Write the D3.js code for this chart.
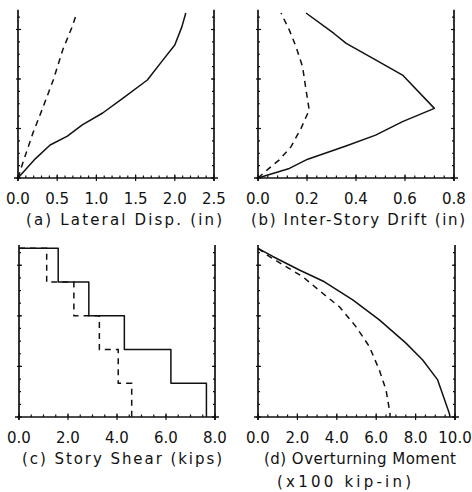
<!DOCTYPE html>
<html>
<head>
<meta charset="utf-8">
<script src="https://cdn.jsdelivr.net/npm/d3@7/dist/d3.min.js"></script>
<style>
  html, body { margin: 0; padding: 0; background: #fff; }
  svg { display: block; }
  text { font-family: "DejaVu Sans", sans-serif; fill: #111; }
</style>
</head>
<body>
<svg id="chart" width="472" height="492"></svg>
<script>
// ---------- DATA (x value, height in stories) ----------
// (a) Lateral displacement (in)
const dispSolid  = [[0,0],[0.22,0.58],[0.41,1.0],[0.63,1.27],[0.82,1.61],[1.08,1.97],[1.34,2.42],[1.65,2.97],[1.85,3.58],[2.0,4.03],[2.09,4.58],[2.14,5.0]];
const dispDashed = [[0,0],[0.06,0.45],[0.19,1.36],[0.32,2.15],[0.45,2.97],[0.57,3.88],[0.69,4.58],[0.75,5.0]];
// (b) Inter-story drift (in)
const driftSolid  = [[0,0],[0.128,0.29],[0.203,0.57],[0.359,0.97],[0.48,1.3],[0.59,1.71],[0.72,2.11],[0.59,3.12],[0.48,3.58],[0.36,4.08],[0.31,4.38],[0.196,5.0]];
const driftDashed = [[0,0],[0.04,0.26],[0.087,0.55],[0.135,0.95],[0.176,1.51],[0.209,2.06],[0.196,2.67],[0.182,3.37],[0.155,3.98],[0.128,4.48],[0.094,5.0]];
// (c) Story shear (kips), story 1 .. 5
const shearSolid  = [7.65, 6.2, 4.3, 2.85, 1.6];
const shearDashed = [4.6, 4.05, 3.28, 2.24, 1.13];
// (d) Overturning moment (x100 kip-in)
const momentSolid  = [[0,5.0],[0.75,4.76],[2.1,4.36],[3.37,4.01],[4.81,3.47],[6.16,2.88],[7.51,2.19],[8.36,1.69],[9.12,1.1],[9.71,0.11],[9.75,0]];
const momentDashed = [[0,5.0],[0.57,4.76],[1.42,4.46],[2.27,4.16],[3.28,3.67],[4.13,3.27],[4.97,2.68],[5.65,2.09],[6.16,1.39],[6.5,0.8],[6.7,0.11],[6.7,0]];

// tick labels
const ticksA = [0, 0.5, 1.0, 1.5, 2.0, 2.5];
const ticksB = [0, 0.2, 0.4, 0.6, 0.8];
const ticksC = [0, 2, 4, 6, 8];
const ticksD = [0, 2, 4, 6, 8, 10];

const titlesA = ["(a) Lateral Disp. (in)"];
const titlesB = ["(b) Inter-Story Drift (in)"];
const titlesC = ["(c) Story Shear (kips)"];
const titlesD = ["(d) Overturning Moment", "(x100 kip-in)"];

// build step path for shear
function stepPoints(v) {
  const n = v.length;
  const pts = [[0, n]];
  for (let s = n - 1; s >= 0; s--) {
    pts.push([v[s], s + 1]);
    pts.push([v[s], s]);
  }
  return pts;
}

const svg = d3.select("#chart");

function panel(opt) {
  const x = d3.scaleLinear().domain([0, opt.xmax]).range([opt.left, opt.right]);
  const y = d3.scaleLinear().domain([0, 5.1]).range([opt.bottom, opt.top]);
  const g = svg.append("g");

  // series
  const line = d3.line().x(d => x(d[0])).y(d => y(d[1]));
  g.append("path").attr("d", line(opt.solid))
    .attr("fill", "none").attr("stroke", "#111").attr("stroke-width", 1.5).attr("stroke-linejoin", "round");
  g.append("path").attr("d", line(opt.dashed))
    .attr("fill", "none").attr("stroke", "#111").attr("stroke-width", 1.5).attr("stroke-dasharray", "6,5");

  // frame: left, right, bottom
  const fr = g.append("g").attr("stroke", "#111").attr("stroke-width", 1.7).attr("fill", "none");
  fr.append("line").attr("x1", x(0)).attr("x2", x(0)).attr("y1", y(0) + 3).attr("y2", y(5.1));
  fr.append("line").attr("x1", x(opt.xmax)).attr("x2", x(opt.xmax)).attr("y1", y(0) + 3).attr("y2", y(5.1));
  fr.append("line").attr("x1", x(0) - 4).attr("x2", x(opt.xmax) + 4).attr("y1", y(0)).attr("y2", y(0));

  // y ticks (left and right)
  const tk = g.append("g").attr("stroke", "#111").attr("stroke-width", 1.2);
  const yMinor = d3.range(0, 5.1, 0.375);
  const yMajor = [0, 1.5, 3, 4.5];
  yMinor.forEach(v => {
    tk.append("line").attr("x1", x(0)).attr("x2", x(0) + 2).attr("y1", y(v)).attr("y2", y(v));
    tk.append("line").attr("x1", x(opt.xmax)).attr("x2", x(opt.xmax) - 2).attr("y1", y(v)).attr("y2", y(v));
  });
  yMajor.forEach(v => {
    tk.append("line").attr("x1", x(0) - 2).attr("x2", x(0) + 3).attr("y1", y(v)).attr("y2", y(v));
    tk.append("line").attr("x1", x(opt.xmax) + 1).attr("x2", x(opt.xmax) - 3).attr("y1", y(v)).attr("y2", y(v));
  });

  // x ticks
  const step = opt.ticks[1] - opt.ticks[0];
  const minorStep = step / opt.minorDiv;
  d3.range(0, opt.xmax + minorStep / 2, minorStep).forEach(v => {
    tk.append("line").attr("x1", x(v)).attr("x2", x(v)).attr("y1", y(0)).attr("y2", y(0) - 2.5);
  });
  opt.ticks.forEach(v => {
    tk.append("line").attr("x1", x(v)).attr("x2", x(v)).attr("y1", y(0) + 3).attr("y2", y(0) - 3.5);
  });

  // tick labels
  g.selectAll("text.tl").data(opt.ticks).enter().append("text")
    .attr("class", "tl")
    .attr("x", d => x(d)).attr("y", y(0) + 26)
    .attr("text-anchor", "middle").attr("font-size", 15)
    .text(d => d3.format(".1f")(d));

  // titles
  opt.title.forEach((t, i) => {
    const s = opt.titleStyle[i];
    g.append("text").attr("x", s.cx).attr("y", y(0) + 47 + i * 23)
      .attr("text-anchor", "middle").attr("font-size", 15)
      .attr("textLength", s.w).attr("lengthAdjust", "spacing")
      .text(t);
  });
}

panel({ left: 18, right: 214, top: 9.7, bottom: 178, xmax: 2.5, ticks: ticksA, minorDiv: 5,
        solid: dispSolid, dashed: dispDashed, title: titlesA, titleStyle: [{cx: 124, w: 196}] });
panel({ left: 258, right: 454, top: 9.7, bottom: 178, xmax: 0.8, ticks: ticksB, minorDiv: 5,
        solid: driftSolid, dashed: driftDashed, title: titlesB, titleStyle: [{cx: 358, w: 214}] });
panel({ left: 19, right: 215, top: 245, bottom: 417, xmax: 8, ticks: ticksC, minorDiv: 4,
        solid: stepPoints(shearSolid), dashed: stepPoints(shearDashed), title: titlesC, titleStyle: [{cx: 122, w: 200}] });
panel({ left: 258, right: 455, top: 245, bottom: 417, xmax: 10, ticks: ticksD, minorDiv: 4,
        solid: momentSolid, dashed: momentDashed, title: titlesD,
        titleStyle: [{cx: 360, w: 192}, {cx: 344, w: 134}] });
</script>
</body>
</html>
